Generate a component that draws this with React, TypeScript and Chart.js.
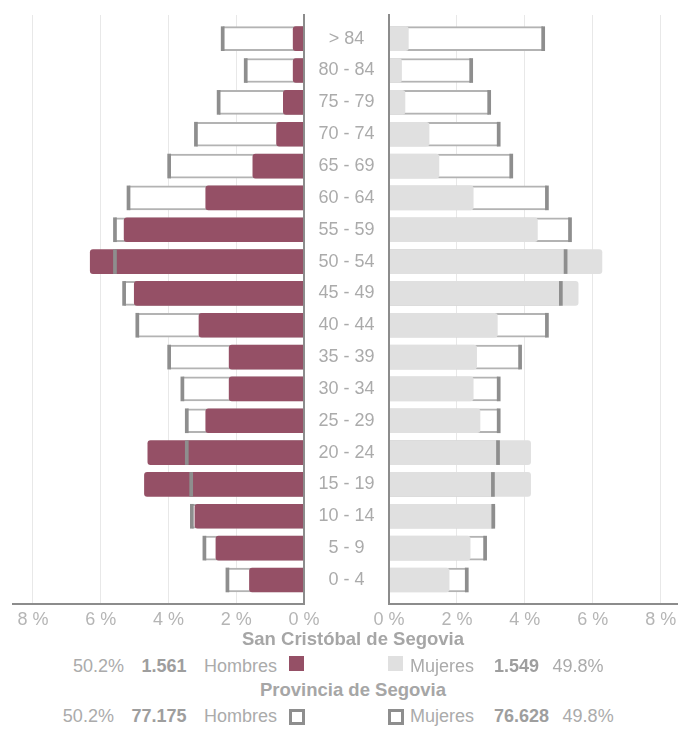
import React, { useEffect, useRef } from 'react';
import { Chart, registerables } from 'chart.js';

Chart.register(...registerables);

// ---------- data ----------
const categories = ['> 84', '80 - 84', '75 - 79', '70 - 74', '65 - 69', '60 - 64', '55 - 59', '50 - 54', '45 - 49', '40 - 44', '35 - 39', '30 - 34', '25 - 29', '20 - 24', '15 - 19', '10 - 14', '5 - 9', '0 - 4'];

const hombresMunicipio = [0.32, 0.32, 0.61, 0.81, 1.51, 2.9, 5.31, 6.31, 5.01, 3.1, 2.21, 2.21, 2.9, 4.61, 4.71, 3.22, 2.6, 1.61];
const hombresProvincia = [2.4, 1.72, 2.52, 3.19, 3.98, 5.18, 5.58, 5.58, 5.31, 4.92, 3.98, 3.59, 3.46, 3.46, 3.33, 3.31, 2.94, 2.26];
const mujeresMunicipio = [0.57, 0.37, 0.47, 1.18, 1.47, 2.48, 4.37, 6.27, 5.57, 3.19, 2.58, 2.48, 2.68, 4.17, 4.17, 3.12, 2.39, 1.77];
const mujeresProvincia = [4.54, 2.42, 2.95, 3.23, 3.6, 4.65, 5.33, 5.2, 5.06, 4.65, 3.86, 3.23, 3.23, 3.21, 3.06, 3.07, 2.83, 2.29];

const xTickValues = [0, 2, 4, 6, 8];

const municipioNombre = 'San Cristóbal de Segovia';
const provinciaNombre = 'Provincia de Segovia';
const municipioHombresPct = '50.2%';
const municipioHombresTotal = '1.561';
const municipioMujeresPct = '49.8%';
const municipioMujeresTotal = '1.549';
const provinciaHombresPct = '50.2%';
const provinciaHombresTotal = '77.175';
const provinciaMujeresPct = '49.8%';
const provinciaMujeresTotal = '76.628';
const labelHombres = 'Hombres';
const labelMujeres = 'Mujeres';

// ---------- style ----------
const FONT = "'Liberation Sans', Arial, Helvetica, sans-serif";
const MAROON = '#955066';
const LIGHT = '#e0e0e0';
const AXIS = '#8c8c8c';
const MARK = '#8e8e8e';
const TEXT = '#ababab';
const indexLabels = categories.map((_, i) => i);

function buildConfig(left: boolean): any {
  const filled = left ? hombresMunicipio : mujeresMunicipio;
  const outline = left ? hombresProvincia : mujeresProvincia;
  const markers = outline.map((v) => [v - 0.045, v + 0.045]);
  return {
    type: 'bar',
    data: {
      labels: indexLabels,
      datasets: [
        { data: markers, backgroundColor: MARK, borderWidth: 0, barThickness: 24, grouped: false },
        { data: filled, backgroundColor: left ? MAROON : LIGHT, borderWidth: 0, borderRadius: 3, barThickness: 24, grouped: false },
        {
          data: outline,
          backgroundColor: '#ffffff',
          borderColor: '#b3b3b3',
          borderWidth: { top: 2, bottom: 2, left: 0, right: 0 },
          borderSkipped: false,
          barThickness: 24,
          grouped: false,
        },
      ],
    },
    options: {
      indexAxis: 'y',
      animation: false,
      responsive: false,
      maintainAspectRatio: false,
      layout: { padding: { top: 15, left: left ? 13 : 0, right: 0, bottom: 0 } },
      plugins: { legend: { display: false }, tooltip: { enabled: false } },
      scales: {
        x: {
          type: 'linear',
          reverse: left,
          min: 0,
          max: left ? 8.59 : 8.51,
          offset: false,
          afterBuildTicks: (s: any) => {
            s.ticks = xTickValues.map((v) => ({ value: v }));
          },
          afterFit: (s: any) => {
            s.height = 36;
            s.paddingLeft = 0;
            s.paddingRight = 0;
          },
          grid: { color: '#e8e8e8', lineWidth: 1, drawTicks: false, offset: false },
          border: { display: true, color: AXIS, width: 2, z: 1 },
          ticks: {
            padding: 5,
            color: '#b5b5b5',
            font: { family: FONT, size: 18 },
            callback: (v: any) => `${v} %`,
          },
        },
        y: {
          type: 'linear',
          reverse: true,
          offset: false,
          min: -0.744,
          max: 17.755,
          position: left ? 'right' : 'left',
          afterBuildTicks: (s: any) => {
            s.ticks = indexLabels.map((v) => ({ value: v }));
          },
          afterFit: (s: any) => {
            s.width = left ? 26 : 89;
            s.paddingTop = 0;
            s.paddingBottom = 0;
          },
          grid: { display: false, drawTicks: false, offset: false },
          border: { display: true, color: AXIS, width: 2, z: 1 },
          ticks: {
            display: !left,
            padding: 14.5,
            crossAlign: 'center',
            color: TEXT,
            font: { family: FONT, size: 18 },
            callback: (v: any) => categories[v as number],
          },
        },
      },
    },
  };
}

function Pyramid({ left }: { left: boolean }) {
  const ref = useRef<HTMLCanvasElement | null>(null);
  useEffect(() => {
    if (!ref.current) return;
    const chart = new Chart(ref.current, buildConfig(left));
    return () => chart.destroy();
  }, [left]);
  const w = left ? 330 : 378;
  return (
    <canvas
      ref={ref}
      width={w}
      height={640}
      style={{ position: 'absolute', top: 0, left: left ? 0 : 300, width: w, height: 640 }}
    />
  );
}

const txt: React.CSSProperties = { fontFamily: FONT, fontSize: 18, lineHeight: '20px', color: TEXT, whiteSpace: 'nowrap' };
const bold: React.CSSProperties = { ...txt, fontWeight: 'bold', color: '#9e9e9e' };

function Title({ top, text }: { top: number; text: string }) {
  return (
    <div style={{ position: 'absolute', top, left: 0, width: 706, textAlign: 'center', ...bold, fontSize: 18.5, color: '#a6a6a6' }}>{text}</div>
  );
}

function Square({ filled, color }: { filled: boolean; color?: string }) {
  return filled ? (
    <div style={{ width: 15, height: 15, background: color, marginTop: 0.5, flex: 'none' }} />
  ) : (
    <div style={{ width: 16, height: 16, border: `3px solid ${MARK}`, boxSizing: 'border-box', background: '#fff', marginTop: 3, flex: 'none' }} />
  );
}

function LeftRow({ top, pct, total, filled }: { top: number; pct: string; total: string; filled: boolean }) {
  return (
    <div style={{ position: 'absolute', top, right: 678 - (filled ? 304 : 305), display: 'flex', alignItems: 'flex-start' }}>
      <span style={txt}>{pct}</span>
      <span style={{ ...bold, marginLeft: 17.5 }}>{total}</span>
      <span style={{ ...txt, marginLeft: 17.5 }}>{labelHombres}</span>
      <div style={{ marginLeft: 12 }}>
        <Square filled={filled} color={MAROON} />
      </div>
    </div>
  );
}

function RightRow({ top, pct, total, filled }: { top: number; pct: string; total: string; filled: boolean }) {
  return (
    <div style={{ position: 'absolute', top, left: 388, display: 'flex', alignItems: 'flex-start' }}>
      <div style={{ marginRight: filled ? 7 : 6 }}>
        <Square filled={filled} color={LIGHT} />
      </div>
      <span style={txt}>{labelMujeres}</span>
      <span style={{ ...bold, marginLeft: 20 }}>{total}</span>
      <span style={{ ...txt, marginLeft: 13.5 }}>{pct}</span>
    </div>
  );
}

export default function App() {
  return (
    <div style={{ position: 'absolute', left: 0, top: 0, width: 678, height: 729, background: '#fff', overflow: 'hidden' }}>
      <Pyramid left={true} />
      <Pyramid left={false} />
      <Title top={629} text={municipioNombre} />
      <LeftRow top={655.5} pct={municipioHombresPct} total={municipioHombresTotal} filled={true} />
      <RightRow top={655.5} pct={municipioMujeresPct} total={municipioMujeresTotal} filled={true} />
      <Title top={680} text={provinciaNombre} />
      <LeftRow top={706} pct={provinciaHombresPct} total={provinciaHombresTotal} filled={false} />
      <RightRow top={706} pct={provinciaMujeresPct} total={provinciaMujeresTotal} filled={false} />
    </div>
  );
}
